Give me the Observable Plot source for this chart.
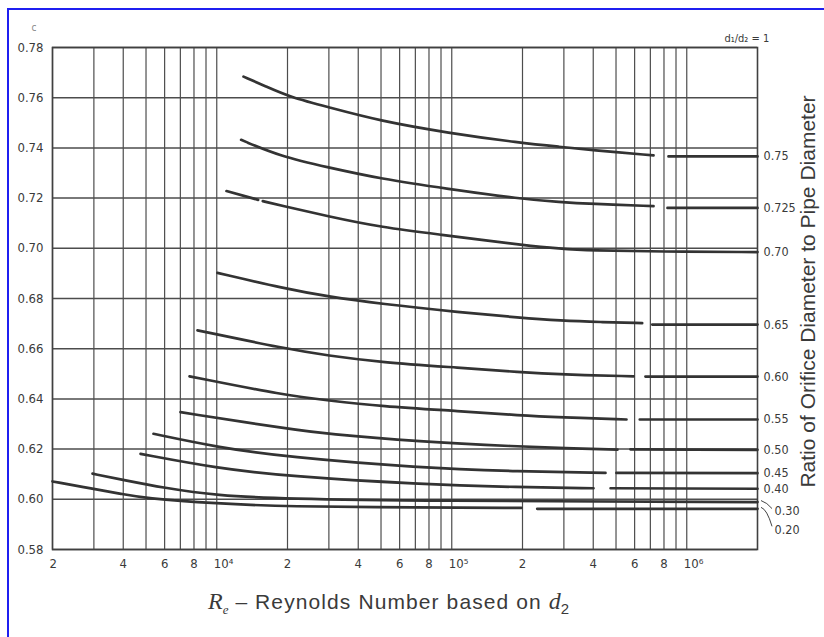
<!DOCTYPE html>
<html>
<head>
<meta charset="utf-8">
<script src="https://cdn.jsdelivr.net/npm/d3@7"></script>
<script src="https://cdn.jsdelivr.net/npm/@observablehq/plot@0.6"></script>
<style>
  html, body { margin: 0; padding: 0; background: #fff; }
  body { width: 824px; height: 637px; overflow: hidden; position: relative; }
  #frame { position: absolute; left: 7px; top: 8px; width: 2000px; height: 2000px;
           border-top: 2px solid #1f1ff0; border-left: 2px solid #1f1ff0; pointer-events: none; }
  #chart { position: absolute; left: 0; top: 0; }
  #cap { position: absolute; left: 208px; top: 588px; font-family: "Liberation Sans", Arial, sans-serif;
         font-size: 21px; color: #3a3a3a; letter-spacing: 1.1px; white-space: nowrap; }
  #cap .v { font-family: "Liberation Serif", "DejaVu Serif", serif; font-style: italic; font-size: 24px; letter-spacing: 0; }
  #cap sub { font-size: 15px; vertical-align: -5px; }
</style>
</head>
<body>
<div id="chart"></div>
<div id="cap"><span class="v">R</span><sub class="v" style="font-size:13px">e</sub> &#8211; Reynolds Number based on <span class="v">d</span><sub>2</sub></div>
<div id="frame"></div>
<script>
// ---- data: discharge coefficient C vs Reynolds number, per diameter ratio ----
// null C marks a break in the printed curve
const beta075 = [[13000,0.7684],[16100,0.7646],[20600,0.7602],[29600,0.7563],[49700,0.7507],[95900,0.7460],[196000,0.7420],[290000,0.7404],[389000,0.7392],[722000,0.7370],[780000,null],[836000,0.7366],[2000000,0.7366]];
const beta0725 = [[12700,0.7432],[18700,0.7366],[29600,0.7323],[49700,0.7277],[95900,0.7237],[196000,0.7197],[290000,0.7184],[389000,0.7177],[722000,0.7168],[780000,null],[828000,0.7161],[2000000,0.7161]];
const beta070 = [[11000,0.7228],[15000,0.7193],[15300,null],[15700,0.7188],[18700,0.7171],[29600,0.7128],[49700,0.7084],[95900,0.7051],[132600,0.7034],[196000,0.7014],[290000,0.6998],[389000,0.6991],[773000,0.6987],[2000000,0.6985]];
const beta065 = [[10070,0.6902],[19600,0.6839],[29600,0.6808],[49700,0.6779],[109000,0.6745],[196000,0.6723],[290000,0.6712],[429000,0.6706],[646000,0.6702],[680000,null],[713000,0.6696],[2000000,0.6696]];
const beta060 = [[8280,0.6673],[19600,0.6600],[29600,0.6573],[49700,0.6546],[109000,0.6524],[196000,0.6506],[290000,0.6497],[594000,0.6490],[630000,null],[667000,0.6489],[2000000,0.6489]];
const beta055 = [[7660,0.6490],[19600,0.6414],[29600,0.6394],[49700,0.6371],[109000,0.6351],[196000,0.6334],[290000,0.6327],[554000,0.6318],[590000,null],[631000,0.6318],[2000000,0.6318]];
const beta050 = [[7010,0.6347],[20000,0.6281],[29600,0.6260],[71500,0.6230],[196000,0.6210],[300000,0.6204],[507000,0.6198],[540000,null],[576000,0.6199],[2000000,0.6197]];
const beta045 = [[5380,0.6261],[9980,0.6208],[20000,0.6168],[71500,0.6126],[196000,0.6111],[451000,0.6105],[475000,null],[502000,0.6105],[2000000,0.6104]];
const beta040 = [[4740,0.6181],[9980,0.6124],[20000,0.6092],[71500,0.6060],[196000,0.6048],[401000,0.6044],[440000,null],[474000,0.6044],[2000000,0.6042]];
const beta030 = [[2960,0.6102],[3970,0.6078],[5930,0.6046],[9980,0.6015],[20000,0.6002],[71500,0.5994],[2000000,0.5989]];
const beta020 = [[2000,0.6071],[2960,0.6042],[3970,0.6021],[4880,0.6005],[9980,0.5983],[20000,0.5971],[71500,0.5967],[198000,0.5966],[215000,null],[231000,0.5962],[2000000,0.5962]];

const curveNames = ["0.75","0.725","0.70","0.65","0.60","0.55","0.50","0.45","0.40","0.30","0.20"];
const curveData = [beta075,beta0725,beta070,beta065,beta060,beta055,beta050,beta045,beta040,beta030,beta020];

const yTicks = [0.58,0.60,0.62,0.64,0.66,0.68,0.70,0.72,0.74,0.76,0.78];
const xGrid = [2000,3000,4000,5000,6000,7000,8000,9000,
               10000,20000,30000,40000,50000,60000,70000,80000,90000,
               100000,200000,300000,400000,500000,600000,700000,800000,900000,1000000];
const xTickCentered = [4000,6000,8000,20000,40000,60000,80000,200000,400000,600000,800000];
const xTickCenteredLabels = ["4","6","8","2","4","6","8","2","4","6","8"];
const xTickStart = [2000,10000,100000,1000000];
const xTickStartLabels = ["2","10\u2074","10\u2075","10\u2076"];

// ---- build table ----
const table = [];
curveNames.forEach((name, i) => {
  for (const [re, c] of curveData[i]) table.push({beta: name, re, c});
});
const ends = curveNames.map((name, i) => {
  const d = curveData[i];
  return {beta: name, re: d[d.length - 1][0], c: d[d.length - 1][1]};
});
const regularEnds = ends.filter(d => d.beta !== "0.30" && d.beta !== "0.20");
const end030 = ends.filter(d => d.beta === "0.30");
const end020 = ends.filter(d => d.beta === "0.20");

const narrow = "'Liberation Sans Narrow', 'DejaVu Sans Condensed', 'Roboto Condensed', 'Liberation Sans', sans-serif";

// leader lines for the two lowest labels, drawn with the plot's scales
function leaders(index, scales) {
  const g = d3.create("svg:g").attr("fill", "none").attr("stroke", "#444").attr("stroke-width", 1);
  const items = [[end030[0], 7], [end020[0], 18]];
  for (const [d, off] of items) {
    const x0 = scales.x(d.re) + 4, y0 = scales.y(d.c);
    g.append("path").attr("d", `M${x0},${y0 - 1} Q${x0 + 6},${y0 + 1} ${x0 + 11},${y0 + off}`);
  }
  return g.node();
}

const chart = Plot.plot({
  width: 824,
  height: 580,
  marginLeft: 52,
  marginRight: 67,
  marginTop: 47,
  marginBottom: 31,
  x: {type: "log", domain: [2000, 2000000], axis: null},
  y: {domain: [0.58, 0.78]},
  style: {background: "transparent", color: "#3a3a3a", fontFamily: narrow, overflow: "visible"},
  marks: [
    Plot.ruleX(xGrid, {stroke: "#4d4d4d", strokeWidth: 1.2}),
    Plot.ruleY(yTicks, {stroke: "#4d4d4d", strokeWidth: 1.5}),
    Plot.frame({stroke: "#404040", strokeWidth: 1.6}),
    Plot.line(table, {x: "re", y: "c", z: "beta", stroke: "#333", strokeWidth: 2.7, curve: "basis"}),
    Plot.axisY(yTicks, {tickSize: 0, tickPadding: 9, tickFormat: d3.format(".2f"), fontSize: 13, label: null}),
    Plot.text(xTickCentered, {x: d => d, text: (d, i) => xTickCenteredLabels[i], frameAnchor: "bottom",
      lineAnchor: "middle", textAnchor: "middle", dy: 14, fontSize: 13}),
    Plot.text(xTickStart, {x: d => d, text: (d, i) => xTickStartLabels[i], frameAnchor: "bottom",
      lineAnchor: "middle", textAnchor: "start", dx: -3, dy: 14, fontSize: 13}),
    Plot.text(regularEnds, {x: "re", y: "c", text: "beta", textAnchor: "start", dx: 6, fontSize: 12.5}),
    Plot.text(end030, {x: "re", y: "c", text: "beta", textAnchor: "start", dx: 17, dy: 9, fontSize: 12.5}),
    Plot.text(end020, {x: "re", y: "c", text: "beta", textAnchor: "start", dx: 17, dy: 21, fontSize: 12.5}),
    leaders,
    Plot.text(["Ratio of Orifice Diameter to Pipe Diameter"], {frameAnchor: "right", textAnchor: "middle", rotate: -90,
      dx: 51, dy: -7, fontSize: 21, fontFamily: "'Liberation Sans', Arial, sans-serif", fill: "#3a3a3a"}),
    Plot.text(["d\u2081/d\u2082 = 1"], {frameAnchor: "top-right", textAnchor: "start", dx: -33, dy: -13, fontSize: 11}),
    Plot.text(["c"], {frameAnchor: "top-left", dx: -21, dy: -24, fontSize: 10, fill: "#888"})
  ]
});
document.getElementById("chart").appendChild(chart);
</script>
</body>
</html>
